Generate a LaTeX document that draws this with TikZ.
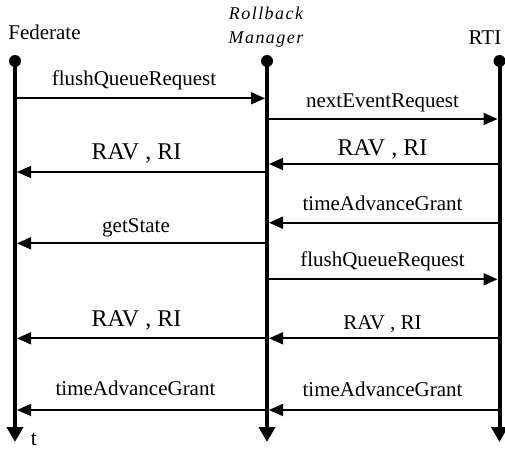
\documentclass[tikz,border=0pt]{standalone}
\usepackage{fontspec}
\setmainfont{Liberation Serif}
\usetikzlibrary{arrows.meta}
\begin{document}
\begin{tikzpicture}[x=1pt,y=-1pt,
  lbl/.style={anchor=base,inner sep=0pt,font=\fontsize{21}{24}\selectfont},
  biglbl/.style={lbl,font=\fontsize{24}{28}\selectfont},
  itlbl/.style={lbl,font=\fontsize{18}{20}\selectfont\itshape\addfontfeature{LetterSpace=8}},
  lifeline/.style={line width=4pt,-{Triangle[length=15pt,width=16pt]}},
  msg/.style={line width=1.8pt,-{Triangle[length=14pt,width=12pt]}},
  dot/.style={circle,fill,inner sep=0pt,minimum size=12pt}]
\useasboundingbox (0,0) rectangle (505,449);

% participants
\node[lbl] (fedname) at (44.5,40) {Federate};
\node[itlbl] (rbname1) at (266,19.5) {Rollback};
\node[itlbl] (rbname2) at (266,43.5) {Manager};
\node[lbl] (rtiname) at (485,45) {RTI};

% lifelines with time arrows
\node[dot] (fedtop) at (15,61) {};
\node[dot] (rbtop) at (267,61) {};
\node[dot] (rtitop) at (499.5,61) {};
\coordinate (fedend) at (15,442);
\coordinate (rbend) at (267,442);
\coordinate (rtiend) at (499.5,442);
\draw[lifeline] (fedtop.center) -- (fedend);
\draw[lifeline] (rbtop.center) -- (rbend);
\draw[lifeline] (rtitop.center) -- (rtiend);
\node[lbl,font=\fontsize{22}{24}\selectfont] (tlabel) at (34,445) {t};

% message end points on the lifeline edges
\coordinate (f1) at (17,98.3);   \coordinate (r1) at (265,98.3);
\coordinate (r2) at (269,119);   \coordinate (t2) at (497.5,119);
\coordinate (f3) at (17,172);    \coordinate (r3) at (265,172);
\coordinate (r4) at (269,164);   \coordinate (t4) at (497.5,164);
\coordinate (r5) at (269,222.7); \coordinate (t5) at (497.5,222.7);
\coordinate (f6) at (17,243.3);  \coordinate (r6) at (265,243.3);
\coordinate (r7) at (269,279.3); \coordinate (t7) at (497.5,279.3);
\coordinate (f8) at (17,338.3);  \coordinate (r8) at (265,338.3);
\coordinate (r9) at (269,338.3); \coordinate (t9) at (497.5,338.3);
\coordinate (f10) at (17,410);   \coordinate (r10) at (265,410);
\coordinate (r11) at (269,410);  \coordinate (t11) at (497.5,410);

% messages
\draw[msg] (f1) -- (r1);
\node[lbl] (l1) at (134,86) {flushQueueRequest};
\draw[msg] (r2) -- (t2);
\node[lbl] (l2) at (382.5,107.5) {nextEventRequest};
\draw[msg] (r3) -- (f3);
\node[biglbl] (l3) at (136.5,160) {RAV , RI};
\draw[msg] (t4) -- (r4);
\node[biglbl] (l4) at (382.5,155) {RAV , RI};
\draw[msg] (t5) -- (r5);
\node[lbl] (l5) at (382.5,210) {timeAdvanceGrant};
\draw[msg] (r6) -- (f6);
\node[lbl] (l6) at (136,232) {getState};
\draw[msg] (r7) -- (t7);
\node[lbl] (l7) at (382.5,266.7) {flushQueueRequest};
\draw[msg] (r8) -- (f8);
\node[biglbl] (l8) at (136.5,326) {RAV , RI};
\draw[msg] (t9) -- (r9);
\node[lbl] (l9) at (382.5,329.3) {RAV , RI};
\draw[msg] (r10) -- (f10);
\node[lbl] (l10) at (135.5,395) {timeAdvanceGrant};
\draw[msg] (t11) -- (r11);
\node[lbl] (l11) at (382.5,396.7) {timeAdvanceGrant};
\end{tikzpicture}
\end{document}
